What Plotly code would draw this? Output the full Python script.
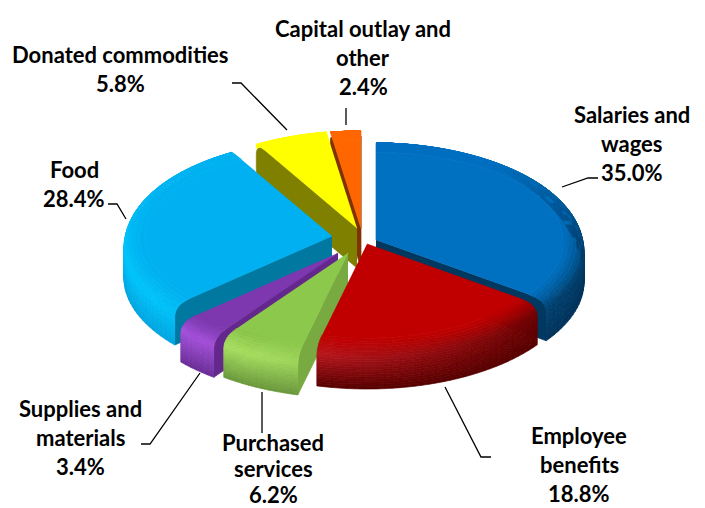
import math
import plotly.graph_objects as go

# data
categories = ["Salaries and wages", "Employee benefits", "Purchased services",
              "Supplies and materials", "Food", "Donated commodities",
              "Capital outlay and other"]
shares = [35.0, 18.8, 6.2, 3.4, 28.4, 5.8, 2.4]

# pie look (pixels on a 705x508 canvas)
RX, RY, RY_TILT, DEPTH = 208, 101, 4, 40
CENTER = (354, 242)
explode = {0: (22, -2), 1: (13, 2), 2: (-6, 11), 3: (-16, 11),
           4: (-22, -6), 5: (3, -14), 6: (7, -14)}
draw_order = [6, 5, 0, 4, 3, 2, 1]
# base, highlight, dark side, wall bottom, cut face
palette = {
    0: ((0, 112, 192), (20, 125, 205), (0, 62, 108), (0, 50, 90), (0, 56, 96)),
    1: ((192, 0, 0), (228, 35, 45), (105, 0, 0), (85, 0, 0), (110, 0, 0)),
    2: ((140, 200, 75), (182, 240, 105), (115, 165, 62), (105, 150, 60), (120, 170, 65)),
    3: ((125, 55, 175), (170, 85, 225), (110, 48, 155), (105, 45, 150), (100, 40, 140)),
    4: ((0, 176, 240), (0, 196, 250), (0, 165, 225), (0, 165, 225), (0, 120, 160)),
    5: ((255, 255, 0), (255, 255, 0), (128, 128, 0), (128, 128, 0), (128, 128, 0)),
    6: ((255, 102, 0), (255, 102, 0), (128, 51, 0), (128, 51, 0), (128, 51, 0)),
}

label_lines = {
    0: ["Salaries and", "wages"], 1: ["Employee", "benefits"],
    2: ["Purchased", "services"], 3: ["Supplies and", "materials"],
    4: ["Food"], 5: ["Donated commodities"], 6: ["Capital outlay and", "other"],
}
label_pos = {0: (632, 114), 1: (579, 435), 2: (273, 442), 3: (80, 408),
             4: (74, 169), 5: (120, 54), 6: (363, 28)}
LINE_GAP = 29
PURCHASED_GAP = 26
leaders = {
    0: [(562, 187), (588, 178), (598, 178)],
    1: [(445, 387), (481, 457), (491, 457)],
    2: [(262, 392), (262, 433)],
    3: [(200, 373), (150, 444), (141, 444)],
    4: [(108, 204), (117, 204), (126, 219)],
    5: [(232, 83), (241, 83), (287, 130)],
    6: [(346, 108), (346, 125)],
}

# bevel profile: radius factor and drop, from flat top down to wall bottom
profile = [(0.90, 0.0), (0.925, 0.008), (0.945, 0.02), (0.962, 0.04), (0.975, 0.07),
           (0.985, 0.11), (0.992, 0.15), (0.997, 0.2), (1.0, 0.26)]
profile += [(1.0, 0.26 + 0.74 * k / 12) for k in range(1, 13)]


def project(apex, r, theta, drop):
    u, v = r * math.sin(theta), r * math.cos(theta)
    return (apex[0] + RX * u * (1 - 0.02 * v),
            apex[1] - v * (RY - RY_TILT * v) + drop * DEPTH)


def rim(apex, r, theta, drop):
    # the rim flattens toward the far side so it never folds over the face
    return project(apex, r, theta, drop * min(1.0, 1.0 - math.cos(theta)))


def mix(a, b, k):
    return tuple(a[i] + (b[i] - a[i]) * k for i in range(3))


def shade(i, t, theta):
    base, hi, dark, lo, _ = palette[i]
    light = max(0.0, min(1.0, 0.5 - 0.55 * math.sin(theta)))
    peak = mix(dark, hi, light)
    if t < 0.35:
        c = mix(base, peak, t / 0.35)
    else:
        c = mix(peak, lo, (t - 0.35) / 0.65)
    # the far side of the rim stays close to the face colour
    c = mix(c, base, max(0.0, min(1.0, math.cos(theta) * 1.2)))
    return "rgb(%d,%d,%d)" % tuple(round(x / 3) * 3 for x in c)


def add_poly(fig, xs, ys, color):
    fig.add_trace(go.Scatter(x=xs, y=ys, mode="lines", fill="toself", fillcolor=color,
                             line=dict(color=color, width=0.7, simplify=False),
                             hoverinfo="skip", showlegend=False))


fig = go.Figure()

# slice angles come from the shares, clockwise from 12 o'clock
angles = []
start = 0.0
for s in shares:
    end = start + s / sum(shares) * 2 * math.pi
    angles.append((start, end))
    start = end

for i in draw_order:
    a0, a1 = angles[i]
    apex = (CENTER[0] + explode[i][0], CENTER[1] + explode[i][1])
    steps = max(3, int((a1 - a0) / math.radians(2)))
    thetas = [a0 + (a1 - a0) * k / steps for k in range(steps + 1)]

    # cut faces that turn toward the viewer
    for edge, seen in ((a0, math.sin(a0) < 0), (a1, math.sin(a1) > 0)):
        if seen:
            pts = [project(apex, 0, edge, 0)]
            pts += [project(apex, r, edge, d) for r, d in profile]
            pts.append(project(apex, 0, edge, 1))
            add_poly(fig, [p[0] for p in pts], [p[1] for p in pts], "rgb(%d,%d,%d)" % palette[i][4])

    # bevel and wall, one colour per trace, wall bottom first
    groups = {}
    for j in range(len(profile) - 2, -1, -1):
        t = (j + 0.5) / (len(profile) - 1)
        for k in range(steps):
            th0, th1 = thetas[k], thetas[k + 1]
            quad = [rim(apex, profile[j][0], th0, profile[j][1]),
                    rim(apex, profile[j][0], th1, profile[j][1]),
                    rim(apex, profile[j + 1][0], th1, profile[j + 1][1]),
                    rim(apex, profile[j + 1][0], th0, profile[j + 1][1])]
            col = shade(i, t, (th0 + th1) / 2)
            g = groups.setdefault(col, ([], []))
            g[0].extend([p[0] for p in quad] + [quad[0][0], None])
            g[1].extend([p[1] for p in quad] + [quad[0][1], None])
    for col, (xs, ys) in groups.items():
        add_poly(fig, xs, ys, col)

    # flat top
    pts = [project(apex, 0, a0, 0)] + [project(apex, profile[0][0], th, 0) for th in thetas]
    add_poly(fig, [p[0] for p in pts], [p[1] for p in pts], "rgb(%d,%d,%d)" % palette[i][0])

# leader lines
for i, pts in leaders.items():
    fig.add_trace(go.Scatter(x=[p[0] for p in pts], y=[p[1] for p in pts], mode="lines",
                             line=dict(color="black", width=1.3), hoverinfo="skip",
                             showlegend=False))

# labels, one annotation per line so the line gap can be set
for i in range(len(categories)):
    lines = label_lines[i] + [f"{shares[i]:.1f}%"]
    x, y = label_pos[i]
    gap = PURCHASED_GAP if i == 2 else LINE_GAP
    for n, text in enumerate(lines):
        fig.add_annotation(x=x, y=y + n * gap, text=text, showarrow=False,
                           font=dict(family="Lato", size=22, color="black", weight="bold"))

fig.update_layout(
    width=705, height=508,
    margin=dict(l=0, r=0, t=0, b=0),
    paper_bgcolor="white", plot_bgcolor="white",
    xaxis=dict(range=[0, 705], visible=False, fixedrange=True),
    yaxis=dict(range=[508, 0], visible=False, fixedrange=True),
    showlegend=False,
)
fig.write_html("out.html", config={"displayModeBar": False},
               post_script="document.body.style.margin='0';")
